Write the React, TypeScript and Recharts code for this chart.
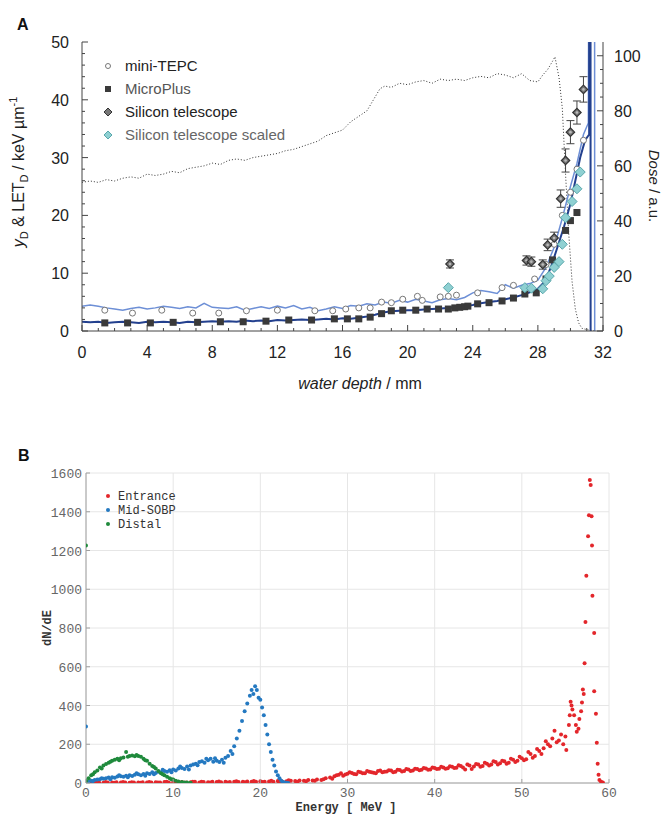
import React from 'react';
import { ComposedChart, Line, Scatter, XAxis, YAxis, CartesianGrid, ErrorBar } from 'recharts';

// ---------- Panel A data ----------
const doseProfile: [number, number][] = [
  [0, 54], [0.5, 54.5], [1, 54], [1.5, 55], [2, 54.5], [2.5, 55.5], [3, 56], [3.5, 55.5], [4, 57], [4.5, 56.5],
  [5, 57], [5.5, 58], [6, 57.5], [6.5, 59], [7, 59.5], [7.5, 60], [8, 61], [8.5, 60.5], [9, 62], [9.5, 62.5],
  [10, 62], [10.5, 63], [11, 63.5], [11.5, 64], [12, 64.5], [12.5, 65.5], [13, 66], [13.5, 67], [14, 68], [14.5, 69],
  [15, 71], [15.5, 72], [16, 73], [16.5, 76], [17, 78], [17.5, 80], [18, 85], [18.3, 88], [18.6, 89], [19, 88.5],
  [19.5, 90], [20, 89.5], [20.5, 90.5], [21, 91], [21.5, 90], [22, 91.5], [22.5, 91], [23, 91.5], [23.5, 91], [24, 92],
  [24.5, 92.5], [25, 92], [25.5, 93.5], [26, 93], [26.5, 92], [27, 93.5], [27.5, 91], [28, 90.5], [28.3, 93], [28.6, 95],
  [28.9, 98], [29.05, 99.6], [29.3, 92], [29.5, 81], [29.7, 57], [29.9, 35], [30.1, 18], [30.3, 8], [30.5, 3], [30.7, 1],
  [31, 0.5], [31.5, 0],
];

const tepcLine: [number, number][] = [
  [0, 4.3], [0.5, 4.5], [1, 4.3], [1.5, 4.0], [2, 3.8], [2.5, 3.6], [3, 3.9], [3.5, 4.1], [4, 3.8], [4.5, 4.0],
  [5, 4.3], [5.5, 4.1], [6, 3.9], [6.5, 4.2], [7, 4.0], [7.5, 4.8], [8, 4.1], [8.5, 4.0], [9, 3.9], [9.5, 4.2],
  [10, 3.6], [10.5, 3.9], [11, 4.2], [11.5, 3.9], [12, 4.3], [12.5, 4.0], [13, 4.4], [13.5, 3.8], [14, 4.1], [14.5, 3.5],
  [15, 3.8], [15.5, 4.2], [16, 3.9], [16.5, 4.4], [17, 4.3], [17.5, 4.7], [18, 4.5], [18.5, 5.0], [19, 4.8], [19.5, 5.3],
  [20, 5.0], [20.5, 5.5], [21, 5.2], [21.5, 4.9], [22, 5.4], [22.5, 5.6], [23, 5.4], [23.5, 5.8], [24, 6.6], [24.5, 7.0],
  [25, 6.8], [25.5, 6.5], [26, 8.0], [26.5, 7.4], [27, 7.9], [27.5, 8.2], [28, 8.8], [28.5, 11], [29, 14.5], [29.5, 19.5],
  [30, 25], [30.4, 29], [30.8, 34], [31.1, 36], [31.45, 400], [31.5, -100],
];

const microLine: [number, number][] = [
  [0, 1.6], [0.5, 1.5], [1, 1.6], [1.5, 1.4], [2, 1.5], [2.5, 1.6], [3, 1.5], [3.5, 1.4], [4, 1.6], [4.5, 1.5],
  [5, 1.6], [5.5, 1.5], [6, 1.4], [6.5, 1.6], [7, 1.5], [7.5, 1.6], [8, 1.7], [8.5, 1.6], [9, 1.7], [9.5, 1.6],
  [10, 1.8], [10.5, 1.7], [11, 1.8], [11.5, 1.7], [12, 1.9], [12.5, 1.8], [13, 1.9], [13.5, 2.0], [14, 1.9], [14.5, 2.0],
  [15, 2.1], [15.5, 2.0], [16, 2.2], [16.5, 2.1], [17, 2.3], [17.5, 2.5], [18, 2.8], [18.5, 3.2], [19, 3.4], [19.5, 3.5],
  [20, 3.6], [20.5, 3.6], [21, 3.7], [21.5, 3.8], [22, 3.9], [22.5, 4.0], [23, 4.1], [23.5, 4.3], [24, 4.5], [24.5, 4.8],
  [25, 5.0], [25.5, 5.2], [26, 5.5], [26.5, 5.8], [27, 6.2], [27.5, 6.7], [28, 7.3], [28.4, 8.5], [28.8, 11], [29.2, 14.5],
  [29.6, 18], [30, 22], [30.3, 26], [30.6, 30], [30.9, 33], [31.15, 34], [31.2, 400], [31.25, -100],
];

const tepcPoints: [number, number][] = [
  [1.4, 3.6], [3.1, 3.1], [4.9, 3.6], [6.8, 3.1], [8.4, 3.1], [10.1, 3.5], [12.0, 3.6], [14.3, 3.5], [15.4, 3.5], [16.2, 3.8],
  [17.0, 4.0], [17.7, 4.0], [18.4, 5.0], [19.0, 4.9], [19.7, 5.5], [20.6, 6.0], [20.9, 5.3], [22.0, 5.9], [22.5, 6.0], [23.0, 6.2],
  [24.3, 6.6], [25.8, 7.5], [26.5, 7.9], [27.8, 9.0], [28.5, 11.5], [29.0, 15], [29.5, 20], [30.0, 24], [30.4, 28], [30.8, 33],
];

const microPoints: [number, number][] = [
  [1.4, 1.4], [2.8, 1.4], [4.2, 1.4], [5.6, 1.5], [7.1, 1.5], [8.5, 1.6], [9.9, 1.6], [11.3, 1.7], [12.7, 1.9], [14.1, 1.9],
  [15.5, 2.1], [16.3, 2.1], [17.0, 2.1], [17.7, 2.4], [18.4, 3.0], [19.0, 3.5], [19.7, 3.6], [20.5, 3.6], [21.2, 3.8], [21.9, 3.8],
  [22.5, 3.8], [22.9, 4.0], [23.2, 4.1], [23.5, 4.2], [23.7, 4.3], [24.3, 4.7], [25.0, 4.9], [25.8, 5.2], [26.5, 5.7], [27.2, 6.4],
  [27.9, 6.6], [28.5, 9], [28.9, 12.3], [29.7, 17.4], [30.0, 19.1], [30.4, 20.5],
];

const siliconPoints: [number, number, number][] = [
  [22.6, 11.6, 0.7], [27.3, 12.2, 0.8], [27.6, 12.0, 0.8], [28.3, 11.5, 0.8], [28.6, 14.9, 1.0], [29.0, 16.1, 1.0],
  [29.4, 22.9, 1.5], [29.7, 29.5, 2.0], [30.0, 34.4, 2.0], [30.4, 37.8, 2.0], [30.8, 41.8, 2.2],
];

const scaledPoints: [number, number][] = [
  [22.5, 7.5], [27.2, 7.5], [27.6, 7.4], [28.3, 7.3], [28.5, 8.7], [28.7, 9.5], [29.0, 11], [29.3, 12], [29.5, 15],
  [29.7, 19.6], [30.1, 22.4], [30.4, 24.6], [30.6, 27.5],
];

const depthTicks = [0, 1, 2, 3, 4, 5, 6, 7, 8, 9, 10, 11, 12, 13, 14, 15, 16, 17, 18, 19, 20, 21, 22, 23, 24, 25, 26, 27, 28, 29, 30, 31, 32];
const leftTicksA = [0, 2, 4, 6, 8, 10, 12, 14, 16, 18, 20, 22, 24, 26, 28, 30, 32, 34, 36, 38, 40, 42, 44, 46, 48, 50];
const doseTicks = [0, 5, 10, 15, 20, 25, 30, 35, 40, 45, 50, 55, 60, 65, 70, 75, 80, 85, 90, 95, 100];
const legendA = ['mini-TEPC', 'MicroPlus', 'Silicon telescope', 'Silicon telescope scaled'];

// ---------- Panel B data ----------
const entrance: [number, number][] = [
  [0, 2], [0.5, 1], [1, 3], [1.5, 2], [2, 1], [2.5, 3], [3, 2], [3.5, 4], [4, 2], [4.5, 3], [5, 1], [5.5, 3], [6, 2], [6.5, 4],
  [7, 3], [7.5, 2], [8, 4], [8.5, 3], [9, 5], [9.5, 3], [10, 4], [10.5, 2], [11, 5], [11.5, 3], [12, 4], [12.5, 6], [13, 3],
  [13.5, 5], [14, 4], [14.5, 6], [15, 5], [15.5, 4], [16, 6], [16.5, 5], [17, 7], [17.5, 5], [18, 6], [18.5, 8], [19, 6],
  [19.5, 7], [20, 9], [20.5, 6], [21, 8], [21.5, 7], [22, 10], [22.5, 8], [23, 9], [23.5, 12], [24, 10], [24.5, 13], [25, 11],
  [25.5, 15], [26, 13], [26.5, 18], [27, 16], [27.5, 24], [28, 28], [28.5, 35], [29, 42], [29.5, 38], [30, 48], [30.5, 52],
  [31, 45], [31.5, 55], [32, 50], [32.5, 58], [33, 53], [33.5, 62], [34, 56], [34.5, 60], [35, 64], [35.5, 58], [36, 67],
  [36.5, 62], [37, 70], [37.5, 65], [38, 72], [38.5, 68], [39, 75], [39.5, 70], [40, 78], [40.5, 74], [41, 80], [41.5, 76],
  [42, 84], [42.5, 79], [43, 88], [43.5, 70], [44, 90], [44.5, 85], [45, 95], [45.5, 88], [46, 100], [46.5, 95], [47, 108],
  [47.5, 102], [48, 112], [48.5, 105], [49, 120], [49.5, 115], [50, 128], [50.5, 122], [51, 150], [51.5, 140], [52, 165],
  [52.5, 180], [53, 200], [53.5, 230], [54, 210], [54.5, 250], [55, 240],
  [0.25, 4], [1.25, 1], [2.25, 5], [3.25, 1], [4.25, 5], [5.25, 4], [6.25, 1], [7.25, 5], [8.25, 2], [9.25, 6], [10.25, 6],
  [11.25, 1], [12.25, 7], [13.25, 7], [14.25, 2], [15.25, 8], [16.25, 3], [17.25, 9], [18.25, 4], [19.25, 10], [20.25, 5],
  [21.25, 11], [22.25, 6], [23.25, 14], [24.25, 6], [25.25, 9], [26.25, 12], [27.25, 20], [28.25, 22], [28.75, 40],
  [29.25, 50], [29.75, 44], [30.25, 55],
  [30.75, 47], [31.25, 58], [31.75, 50], [32.25, 62], [32.75, 55], [33.25, 50], [33.75, 65], [34.25, 58], [34.75, 66],
  [35.25, 55], [35.75, 68], [36.25, 60], [36.75, 72], [37.25, 62], [37.75, 74], [38.25, 66], [38.75, 78], [39.25, 68],
  [39.75, 80], [40.25, 72], [40.75, 84], [41.25, 74], [41.75, 86], [42.25, 78], [42.75, 92], [43.25, 80], [43.75, 95],
  [44.25, 72], [44.75, 98], [45.25, 84], [45.75, 104], [46.25, 90], [46.75, 112], [47.25, 96], [47.75, 115], [48.25, 100],
  [48.75, 125], [49.25, 108], [49.75, 135], [50.25, 118], [50.75, 160], [51.25, 130], [51.75, 175], [52.25, 150],
  [52.75, 215], [53.25, 190], [53.75, 270], [54.25, 220], [54.75, 200], [55.1, 170],
  [55.4, 300], [55.5, 350], [55.6, 420], [55.7, 400], [55.8, 380], [56, 350], [56.2, 300], [56.3, 265], [56.5, 280],
  [56.6, 330], [56.8, 370], [56.9, 416], [57, 483], [57.1, 460], [57.2, 618], [57.3, 831], [57.4, 1070], [57.6, 1273],
  [57.7, 1382], [57.8, 1564], [57.9, 1538], [58, 1377], [58.05, 1226], [58.1, 966], [58.3, 774], [58.3, 473], [58.5, 358],
  [58.6, 208], [58.7, 99], [58.8, 42], [58.9, 16], [59.1, 6], [59.3, 2],
];

const midSobp: [number, number][] = [
  [0, 291], [0, 5], [0.3, 8], [0.6, 12], [1, 15], [1.3, 18], [1.6, 20], [2, 22], [2.3, 25], [2.6, 28], [3, 30], [3.3, 27],
  [3.6, 33], [4, 35], [4.3, 32], [4.6, 38], [5, 40], [5.3, 36], [5.6, 42], [6, 45], [6.3, 40], [6.6, 47], [7, 50], [7.3, 46],
  [7.6, 55], [8, 52], [8.3, 58], [8.6, 55], [9, 62], [9.3, 58], [9.6, 66], [10, 70], [10.3, 65], [10.6, 75], [11, 78],
  [11.3, 72], [11.6, 85], [12, 90], [12.3, 95], [12.6, 100], [13, 108], [13.3, 112], [13.6, 105], [14, 118], [14.3, 125],
  [14.6, 110], [15, 115], [15.3, 108], [15.6, 120], [16, 130], [16.3, 140], [16.6, 165], [17, 190], [17.3, 230], [17.6, 270],
  [17.9, 320], [18.2, 370], [18.5, 410], [18.8, 450], [19, 480], [19.2, 460], [19.4, 500], [19.6, 480], [19.8, 440],
  [20, 430], [20.2, 390], [20.4, 350], [20.6, 300], [20.8, 250], [21, 200], [21.2, 160], [21.4, 120], [21.6, 90], [21.8, 60],
  [22, 40], [22.2, 25], [22.4, 12], [22.6, 5], [22.8, 2], [23, 1], [23.2, 0],
  [0.8, 10], [1.8, 25], [2.8, 20], [3.8, 40], [4.8, 30], [5.8, 50], [6.8, 38], [7.8, 45], [8.8, 68], [9.8, 55], [10.8, 85],
  [11.8, 70], [12.8, 92], [13.8, 125], [14.8, 128], [15.8, 105], [16.8, 150],
];

const distal: [number, number][] = [
  [0, 1226], [0, 10], [0.3, 25], [0.6, 40], [1, 55], [1.3, 65], [1.6, 80], [2, 90], [2.3, 98], [2.6, 105], [3, 115],
  [3.3, 120], [3.6, 125], [4, 128], [4.3, 132], [4.6, 160], [5, 140], [5.3, 142], [5.6, 138], [6, 140], [6.3, 135],
  [6.6, 125], [7, 115], [7.3, 100], [7.6, 88], [8, 75], [8.3, 62], [8.6, 50], [9, 40], [9.3, 32], [9.6, 24], [10, 18],
  [10.3, 12], [10.6, 8], [11, 5], [11.3, 3], [11.6, 2], [12, 1],
  [0.8, 45], [1.8, 75], [2.8, 110], [3.8, 118], [4.8, 135], [5.8, 145], [6.8, 118], [7.8, 82], [8.8, 45], [9.8, 20],
];

const energyTicks = [0, 10, 20, 30, 40, 50, 60];
const countTicks = [0, 200, 400, 600, 800, 1000, 1200, 1400, 1600];
const legendB = ['Entrance', 'Mid-SOBP', 'Distal'];

const xy = (arr: number[][]) => arr.map((p) => ({ x: p[0], y: p[1], e: p[2] }));

// ---------- helpers ----------
type Side = 'bottom' | 'top' | 'left' | 'right';
function makeTick(side: Side, isMajor: (v: number) => boolean, majLen: number, minLen: number, showLabel: boolean,
  color: string, font: string, size: number, textColor: string, off: number, dy: number) {
  return (props: any) => {
    const { x, y, payload } = props;
    const v = payload.value;
    const maj = isMajor(v);
    const len = maj ? majLen : minLen;
    let x2 = x, y2 = y;
    if (side === 'bottom') y2 = y - len;
    if (side === 'top') y2 = y + len;
    if (side === 'left') x2 = x + len;
    if (side === 'right') x2 = x - len;
    let label: any = null;
    if (showLabel && maj) {
      const common = { fontFamily: font, fontSize: size, fill: textColor };
      if (side === 'bottom') label = <text x={x} y={y + dy} textAnchor="middle" {...common}>{v}</text>;
      if (side === 'left') label = <text x={x - off} y={y + dy} textAnchor="end" {...common}>{v}</text>;
      if (side === 'right') label = <text x={x + off} y={y + dy} textAnchor="start" {...common}>{v}</text>;
    }
    return (
      <g>
        {len > 0 && <line x1={x} y1={y} x2={x2} y2={y2} stroke={color} strokeWidth={1} />}
        {label}
      </g>
    );
  };
}

const diamond = (cx: number, cy: number, r: number) => `${cx},${cy - r} ${cx + r},${cy} ${cx},${cy + r} ${cx - r},${cy}`;

const FONT_A = 'Liberation Sans, Arial, sans-serif';
const FONT_B = 'Liberation Mono, Courier New, monospace';
const AX_A = '#444';
const AX_B = '#a0a0a0';

export default function App() {
  return (
    <div style={{ position: 'absolute', left: 0, top: 0, width: 667, height: 815, background: '#fff', overflow: 'hidden' }}>
      <div style={{ position: 'absolute', left: 0, top: 0 }}>
        <ComposedChart width={667} height={400} margin={{ top: 42, right: 14, bottom: 39, left: 32 }}>
          <XAxis xAxisId="b" dataKey="x" type="number" domain={[0, 32]} allowDataOverflow ticks={depthTicks} interval={0}
            tickSize={0} tickMargin={0} height={30} axisLine={{ stroke: AX_A }} tickLine={false}
            tick={makeTick('bottom', (v) => v % 4 === 0, 6, 3, true, AX_A, FONT_A, 16, '#222', 0, 27)} />
          <XAxis xAxisId="t" orientation="top" dataKey="x" type="number" domain={[0, 32]} allowDataOverflow ticks={depthTicks} interval={0}
            tickSize={0} tickMargin={0} height={0} axisLine={{ stroke: AX_A }} tickLine={false}
            tick={makeTick('top', (v) => v % 4 === 0, 6, 3, false, AX_A, FONT_A, 16, '#222', 0, 0)} />
          <YAxis yAxisId="l" dataKey="y" type="number" domain={[0, 50]} allowDataOverflow ticks={leftTicksA} interval={0}
            tickSize={0} tickMargin={0} width={50} axisLine={{ stroke: AX_A }} tickLine={false}
            tick={makeTick('left', (v) => v % 10 === 0, 6, 3, true, AX_A, FONT_A, 16, '#222', 13, 6)} />
          <YAxis yAxisId="r" orientation="right" dataKey="y" type="number" domain={[0, 105]} allowDataOverflow ticks={doseTicks} interval={0}
            tickSize={0} tickMargin={0} width={50} axisLine={{ stroke: AX_A }} tickLine={false}
            tick={makeTick('right', (v) => v % 20 === 0, 6, 3, true, AX_A, FONT_A, 16, '#222', 11, 6)} />

          <Line xAxisId="b" yAxisId="r" data={xy(doseProfile)} dataKey="y" type="linear" stroke="#333" strokeWidth={1}
            strokeDasharray="1 2" dot={false} activeDot={false} isAnimationActive={false} />
          <Line xAxisId="b" yAxisId="l" data={xy(tepcLine)} dataKey="y" type="linear" stroke="#6d8fd6" strokeWidth={1.5}
            dot={false} activeDot={false} isAnimationActive={false} />
          <Line xAxisId="b" yAxisId="l" data={xy(microLine)} dataKey="y" type="linear" stroke="#23408e" strokeWidth={2}
            dot={false} activeDot={false} isAnimationActive={false} />
          <Scatter xAxisId="b" yAxisId="l" data={xy(tepcPoints)} dataKey="y" isAnimationActive={false}
            shape={(p: any) => <circle cx={p.cx} cy={p.cy} r={3} fill="#fff" stroke="#777" strokeWidth={1} />} />
          <Scatter xAxisId="b" yAxisId="l" data={xy(microPoints)} dataKey="y" isAnimationActive={false}
            shape={(p: any) => <rect x={p.cx - 3.5} y={p.cy - 3.5} width={7} height={7} fill="#3a3a3a" />} />
          <Scatter xAxisId="b" yAxisId="l" data={xy(siliconPoints)} dataKey="y" isAnimationActive={false}
            shape={(p: any) => (
              <g>
                <polygon points={diamond(p.cx, p.cy, 4.2)} fill="#777" stroke="#333" strokeWidth={1.2} />
                <circle cx={p.cx} cy={p.cy} r={1.3} fill="#bbb" />
              </g>
            )}>
            <ErrorBar dataKey="e" direction="y" width={4} stroke="#444" strokeWidth={1} />
          </Scatter>
          <Scatter xAxisId="b" yAxisId="l" data={xy(scaledPoints)} dataKey="y" isAnimationActive={false}
            shape={(p: any) => <polygon points={diamond(p.cx, p.cy, 5)} fill="#8fd0d2" stroke="#58a7ab" strokeWidth={1} />} />
        </ComposedChart>
      </div>

      <div style={{ position: 'absolute', left: 0, top: 400 }}>
        <ComposedChart width={667} height={415} margin={{ top: 73, right: 58, bottom: 12, left: 36 }}>
          <CartesianGrid xAxisId="b" yAxisId="l" stroke="#e6e6e6" strokeWidth={1} />
          <XAxis xAxisId="b" dataKey="x" type="number" domain={[0, 60]} allowDataOverflow ticks={energyTicks} interval={0}
            tickSize={0} tickMargin={0} height={20} axisLine={{ stroke: AX_B }} tickLine={false}
            tick={makeTick('bottom', () => true, 4, 4, true, AX_B, FONT_B, 13, '#666', 0, 14)} />
          <XAxis xAxisId="t" orientation="top" dataKey="x" type="number" domain={[0, 60]} allowDataOverflow ticks={energyTicks} interval={0}
            tickSize={0} tickMargin={0} height={0} axisLine={{ stroke: AX_B }} tickLine={false}
            tick={makeTick('top', () => true, 4, 4, false, AX_B, FONT_B, 13, '#666', 0, 0)} />
          <YAxis yAxisId="l" dataKey="y" type="number" domain={[0, 1600]} allowDataOverflow ticks={countTicks} interval={0}
            tickSize={0} tickMargin={0} width={50} axisLine={{ stroke: AX_B }} tickLine={false}
            tick={makeTick('left', () => true, 4, 4, true, AX_B, FONT_B, 13, '#666', 4, 5)} />
          <YAxis yAxisId="r" orientation="right" dataKey="y" type="number" domain={[0, 1600]} allowDataOverflow ticks={countTicks} interval={0}
            tickSize={0} tickMargin={0} width={0} axisLine={{ stroke: AX_B }} tickLine={false}
            tick={makeTick('right', () => true, 4, 4, false, AX_B, FONT_B, 13, '#666', 0, 0)} />
          <Scatter xAxisId="b" yAxisId="l" data={xy(entrance)} dataKey="y" isAnimationActive={false}
            shape={(p: any) => <circle cx={p.cx} cy={p.cy} r={2} fill="#e3262b" />} />
          <Scatter xAxisId="b" yAxisId="l" data={xy(midSobp)} dataKey="y" isAnimationActive={false}
            shape={(p: any) => <circle cx={p.cx} cy={p.cy} r={2} fill="#2479c1" />} />
          <Scatter xAxisId="b" yAxisId="l" data={xy(distal)} dataKey="y" isAnimationActive={false}
            shape={(p: any) => <circle cx={p.cx} cy={p.cy} r={2} fill="#1f8a3c" />} />
        </ComposedChart>
      </div>

      <svg width={667} height={815} style={{ position: 'absolute', left: 0, top: 0, pointerEvents: 'none' }}>
        {/* Panel letters */}
        <text x={17} y={30} fontFamily={FONT_A} fontWeight="bold" fontSize={16} fill="#111">A</text>
        <text x={18} y={461} fontFamily={FONT_A} fontWeight="bold" fontSize={16} fill="#111">B</text>

        {/* Panel A legend */}
        <circle cx={108} cy={66} r={2.5} fill="#fff" stroke="#777" />
        <rect x={105} y={86} width={6} height={6} fill="#3a3a3a" />
        <polygon points={diamond(108, 112, 4)} fill="#777" stroke="#333" />
        <polygon points={diamond(108, 135, 4)} fill="#8fd0d2" stroke="#58a7ab" />
        <text x={125} y={71} fontFamily={FONT_A} fontSize={15} fill="#222">{legendA[0]}</text>
        <text x={125} y={94} fontFamily={FONT_A} fontSize={15} fill="#555">{legendA[1]}</text>
        <text x={125} y={117} fontFamily={FONT_A} fontSize={15} fill="#222">{legendA[2]}</text>
        <text x={125} y={140} fontFamily={FONT_A} fontSize={15} fill="#666">{legendA[3]}</text>

        {/* Panel A axis titles */}
        <text x={360} y={389} textAnchor="middle" fontFamily={FONT_A} fontSize={16} fill="#222">
          <tspan fontStyle="italic">water depth</tspan> / mm
        </text>
        <text transform="translate(24,172) rotate(-90)" textAnchor="middle" fontFamily={FONT_A} fontSize={16} fill="#222">
          <tspan fontStyle="italic">y</tspan><tspan fontSize={11} dy={4}>D</tspan><tspan dy={-4}> &amp; LET</tspan><tspan fontSize={11} dy={4}>D</tspan><tspan dy={-4}> / keV µm</tspan><tspan fontSize={11} dy={-7}>-1</tspan>
        </text>
        <text transform="translate(649,186) rotate(90)" textAnchor="middle" fontFamily={FONT_A} fontSize={15} fill="#222">
          <tspan fontStyle="italic">Dose</tspan> / a.u.
        </text>

        {/* Panel B legend */}
        <circle cx={108} cy={496} r={2} fill="#e3262b" />
        <circle cx={108} cy={510} r={2} fill="#2479c1" />
        <circle cx={108} cy={524} r={2} fill="#1f8a3c" />
        <text x={118} y={500} fontFamily={FONT_B} fontSize={12} fill="#333">{legendB[0]}</text>
        <text x={118} y={514} fontFamily={FONT_B} fontSize={12} fill="#333">{legendB[1]}</text>
        <text x={118} y={528} fontFamily={FONT_B} fontSize={12} fill="#333">{legendB[2]}</text>

        {/* Panel B axis titles */}
        <text x={346} y={811} textAnchor="middle" fontFamily={FONT_B} fontWeight="bold" fontSize={12} fill="#333">Energy [ MeV ]</text>
        <text transform="translate(51,628) rotate(-90)" textAnchor="middle" fontFamily={FONT_B} fontWeight="bold" fontSize={12} fill="#333">dN/dE</text>
      </svg>
    </div>
  );
}
